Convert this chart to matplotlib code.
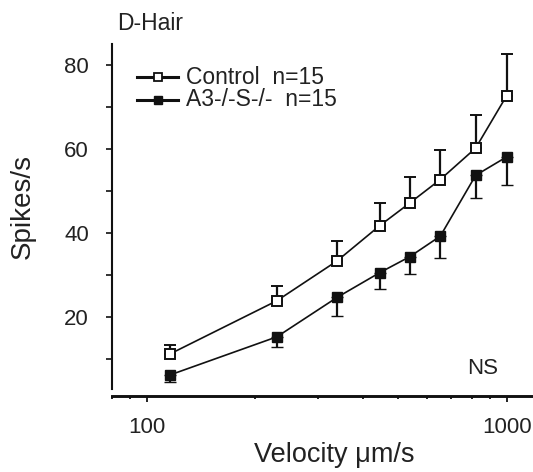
import numpy as np
import matplotlib
matplotlib.use("Agg")
import matplotlib.pyplot as plt
from matplotlib.ticker import FixedLocator, NullFormatter, FixedFormatter

plt.rcParams['font.family'] = ['Liberation Sans', 'DejaVu Sans']

velocity = [116, 230, 338, 444, 538, 654, 820, 1000]
control_mean = [11.1, 23.8, 33.3, 41.7, 47.1, 52.7, 60.2, 72.7]
control_sem = [2.2, 3.5, 4.8, 5.4, 6.2, 7.0, 7.8, 9.8]
mutant_mean = [6.1, 15.2, 24.6, 30.5, 34.3, 39.2, 53.7, 58.1]
mutant_sem = [1.6, 2.5, 4.4, 4.0, 4.2, 5.2, 5.3, 6.6]

label_control = "Control  n=15"
label_mutant = "A3-/-S-/-  n=15"
x_major = [100, 1000]
x_major_labels = ["100", "1000"]
x_minor = [80, 90, 200, 300, 400, 500, 600, 700, 800, 900]
y_major = [20, 40, 60, 80]
y_minor = [10, 30, 50, 70]

W, H = 533, 472
fig = plt.figure(figsize=(W / 100, H / 100), dpi=100)
ax_l, ax_r, ax_t, ax_b = 111.7, 533.0, 44.0, 395.7
ax = fig.add_axes([ax_l / W, 1 - ax_b / H, (ax_r - ax_l) / W, (ax_b - ax_t) / H])

ink = '#111111'
txt = '#222222'

ax.set_xscale('log')
ax.set_xlim(80, 1183)
ax.set_ylim(1.17, 85)

zeros = np.zeros(len(velocity))
ax.errorbar(velocity, control_mean, yerr=[zeros, control_sem], color=ink,
            lw=1.2, elinewidth=1.6, capsize=4.5, capthick=1.6,
            marker='s', ms=7.2, mfc='white', mec=ink, mew=1.4, zorder=3)
ax.errorbar(velocity, mutant_mean, yerr=[mutant_sem, zeros], color=ink,
            lw=1.2, elinewidth=1.6, capsize=4.5, capthick=1.6,
            marker='s', ms=7.2, mfc=ink, mec=ink, mew=1.0, zorder=3)

# spines
for s in ['top', 'right']:
    ax.spines[s].set_visible(False)
ax.spines['left'].set_linewidth(1.5)
ax.spines['left'].set_color(ink)
ax.spines['left'].set_bounds(2.8, 85)
ax.spines['bottom'].set_linewidth(2.1)
ax.spines['bottom'].set_color(ink)

ax.xaxis.set_major_locator(FixedLocator(x_major))
ax.xaxis.set_major_formatter(FixedFormatter(x_major_labels))
ax.xaxis.set_minor_locator(FixedLocator(x_minor))
ax.xaxis.set_minor_formatter(NullFormatter())
ax.yaxis.set_major_locator(FixedLocator(y_major))
ax.yaxis.set_minor_locator(FixedLocator(y_minor))

ax.tick_params(axis='x', which='major', length=4.0, width=1.3, color=ink,
               labelsize=16, labelcolor=txt, pad=11)
ax.tick_params(axis='x', which='minor', length=2.3, width=1.3, color=ink)
ax.tick_params(axis='y', which='major', length=4.3, width=1.2, color=ink,
               labelsize=16, labelcolor=txt, pad=12)
ax.tick_params(axis='y', which='minor', length=4.3, width=1.2, color=ink)

# axis labels
ax.set_xlabel("Velocity μm/s", fontsize=19.5, color=txt)
ax.xaxis.set_label_coords(334.5 / W, 1 - 461.7 / H, transform=fig.transFigure)
ax.xaxis.label.set_va('baseline')
ax.set_ylabel("Spikes/s", fontsize=20, color=txt)
ax.yaxis.set_label_coords(23.0 / W, 1 - 206.7 / H, transform=fig.transFigure)
ax.yaxis.label.set_va('center')

# texts
fig.text(117 / W, 1 - 30 / H, "D-Hair", fontsize=16.5, color=txt, va='baseline', ha='left')
fig.text(466.7 / W, 1 - 374.3 / H, "NS", fontsize=16, color=txt, va='baseline', ha='left')

# legend (drawn manually)
def yfrac(ypx):
    return (ax_b - ypx) / (ax_b - ax_t)

lx0 = (136.7 - ax_l) / (ax_r - ax_l)
lx1 = (178.3 - ax_l) / (ax_r - ax_l)
tx = (185.5 - ax_l) / (ax_r - ax_l)
for ypx, fc, lab, mew in [(77, 'white', label_control, 1.3), (100, ink, label_mutant, 1.0)]:
    yf = yfrac(ypx)
    ax.plot([lx0, (lx0 + lx1) / 2, lx1], [yf, yf, yf], transform=ax.transAxes,
            color=ink, lw=2.2, marker='s', markevery=[1], ms=6.4, mfc=fc, mec=ink,
            mew=mew, clip_on=False)
    ax.text(tx, yf, lab, transform=ax.transAxes, fontsize=16.5, color=txt,
            va='center', ha='left')

fig.savefig("out.png", dpi=100)
